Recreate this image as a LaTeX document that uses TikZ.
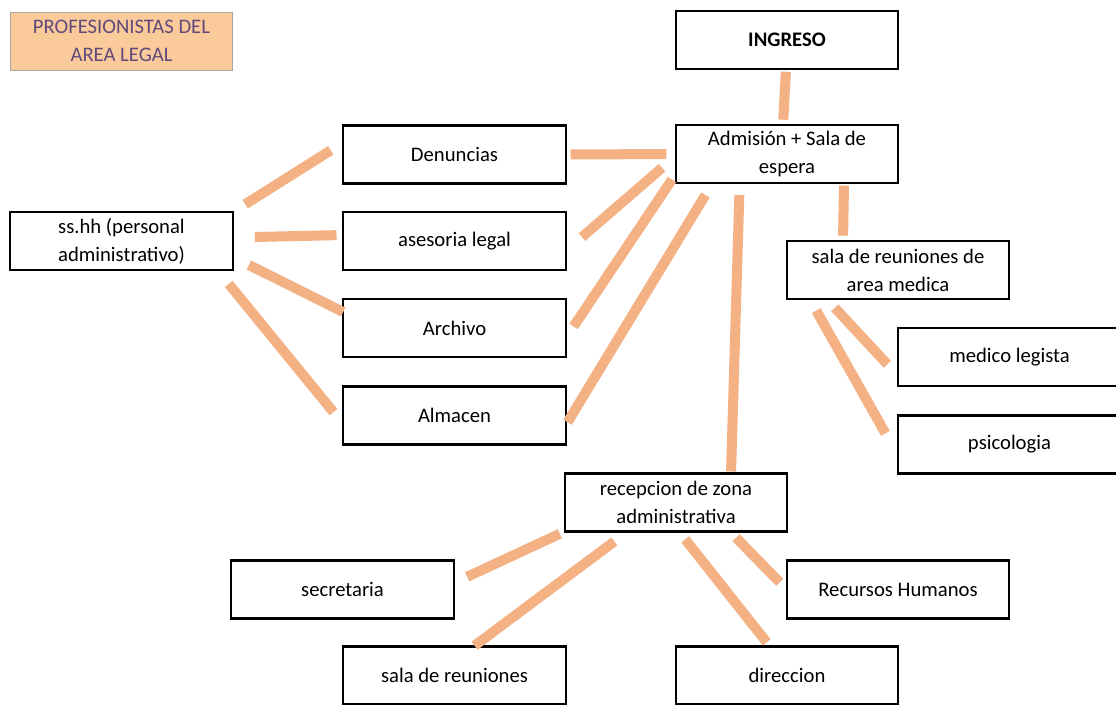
\documentclass[tikz,border=0pt]{standalone}
\usepackage{fontspec}
\setmainfont{Carlito}
\usetikzlibrary{calc}
\definecolor{linkcolor}{RGB}{244,177,131}
\definecolor{titlefill}{RGB}{250,202,155}
\definecolor{titletext}{RGB}{96,74,123}

\begin{document}
\begin{tikzpicture}[x=0.75pt,y=-0.75pt,
    box/.style={draw=black,line width=1.6pt,fill=white,minimum width=167pt,minimum height=43.5pt,
        inner sep=0pt,outer sep=0pt,align=center,font=\fontsize{15.5}{21}\selectfont},
    titlebox/.style={draw=gray!70,line width=0.7pt,fill=titlefill,text=titletext,minimum width=167pt,
        minimum height=43.5pt,inner sep=0pt,outer sep=0pt,align=center,font=\fontsize{15.5}{21}\selectfont},
    link/.style={draw=linkcolor,line width=7.5pt}]
    \useasboundingbox (0,0) rectangle (1116,704);
    \fill[white] (0,0) rectangle (1116,704);

    % Title
    \node[titlebox] (titulo) at (121.5,41) {PROFESIONISTAS DEL\\AREA LEGAL};

    % Boxes
    \node[box] (ingreso) at (787,40) {\textbf{INGRESO}};
    \node[box] (admision) at (787,154) {Admisión + Sala de\\espera};
    \node[box] (denuncias) at (454.5,154.5) {Denuncias};
    \node[box] (sshh) at (121.5,241) {ss.hh (personal\\administrativo)};
    \node[box] (asesoria) at (454.5,241) {asesoria legal};
    \node[box] (archivo) at (454.5,328) {Archivo};
    \node[box] (almacen) at (454.5,415.5) {Almacen};
    \node[box] (salamed) at (898,270) {sala de reuniones de\\area medica};
    \node[box] (legista) at (1009.5,357) {medico legista};
    \node[box] (psico) at (1009.5,444.5) {psicologia};
    \node[box] (recepcion) at (676,502.5) {recepcion de zona\\administrativa};
    \node[box] (secretaria) at (342.5,589.5) {secretaria};
    \node[box] (rrhh) at (898,589.5) {Recursos Humanos};
    \node[box] (salareu) at (454.5,675.5) {sala de reuniones};
    \node[box] (direccion) at (787,675.5) {direccion};

    % Links around admision
    \draw[link,shorten <=2pt,shorten >=4pt] ($(ingreso.south)+(-1,0)$) -- ($(admision.north)+(-4,0)$);
    \draw[link,shorten <=3.5pt,shorten >=7pt] (denuncias.east) -- (admision.west);
    \draw[link,shorten <=13.5pt,shorten >=16pt] ($(admision.west)+(0,2)$) -- ($(asesoria.east)+(0,10)$);
    \draw[link,shorten <=5pt,shorten >=10.5pt] ($(admision.west)+(0,20)$) -- ($(archivo.east)+(0,10)$);
    \draw[link,shorten <=10.5pt,shorten >=2.5pt] ($(admision.south west)+(37,0)$) -- ($(almacen.east)+(0,9.5)$);
    \draw[link,shorten <=9pt,shorten >=1.5pt] ($(admision.south west)+(64,0)$) -- ($(recepcion.north)+(55,0)$);
    \draw[link,shorten <=2pt,shorten >=4pt] ($(admision.south)+(57,0)$) -- ($(salamed.north)+(-55,0)$);

    % Links from ss.hh
    \draw[link,shorten <=11pt,shorten >=11pt] (sshh.north east) -- ($(denuncias.west)+(0,-12)$);
    \draw[link,shorten <=16.5pt,shorten >=5pt] ($(sshh.east)+(0,-3.5)$) -- ($(asesoria.west)+(0,-6)$);
    \draw[link,shorten <=13.5pt] ($(sshh.east)+(0,16)$) -- ($(archivo.west)+(0,-16)$);
    \draw[link,shorten <=13.5pt,shorten >=11.5pt] ($(sshh.south east)+(-15.5,0)$) -- ($(almacen.west)+(0,8.5)$);

    % Links from area medica
    \draw[link,shorten <=9pt,shorten >=12pt] ($(salamed.south west)+(40,0)$) -- ($(legista.west)+(0,19)$);
    \draw[link,shorten <=10pt,shorten >=19.5pt] ($(salamed.south west)+(23,0)$) -- ($(psico.west)+(0,11.5)$);

    % Links from recepcion
    \draw[link,shorten <=4pt,shorten >=11pt] (recepcion.south west) -- ($(secretaria.east)+(0,-6.5)$);
    \draw[link,shorten <=12.5pt,shorten >=1pt] ($(recepcion.south west)+(63,0)$) -- ($(salareu.north)+(19,0)$);
    \draw[link,shorten <=7.5pt,shorten >=4pt] ($(recepcion.south)+(3,0)$) -- ($(direccion.north)+(-17,0)$);
    \draw[link,shorten <=6.5pt,shorten >=7.5pt] ($(recepcion.south)+(54,0)$) -- (rrhh.west);
\end{tikzpicture}
\end{document}
